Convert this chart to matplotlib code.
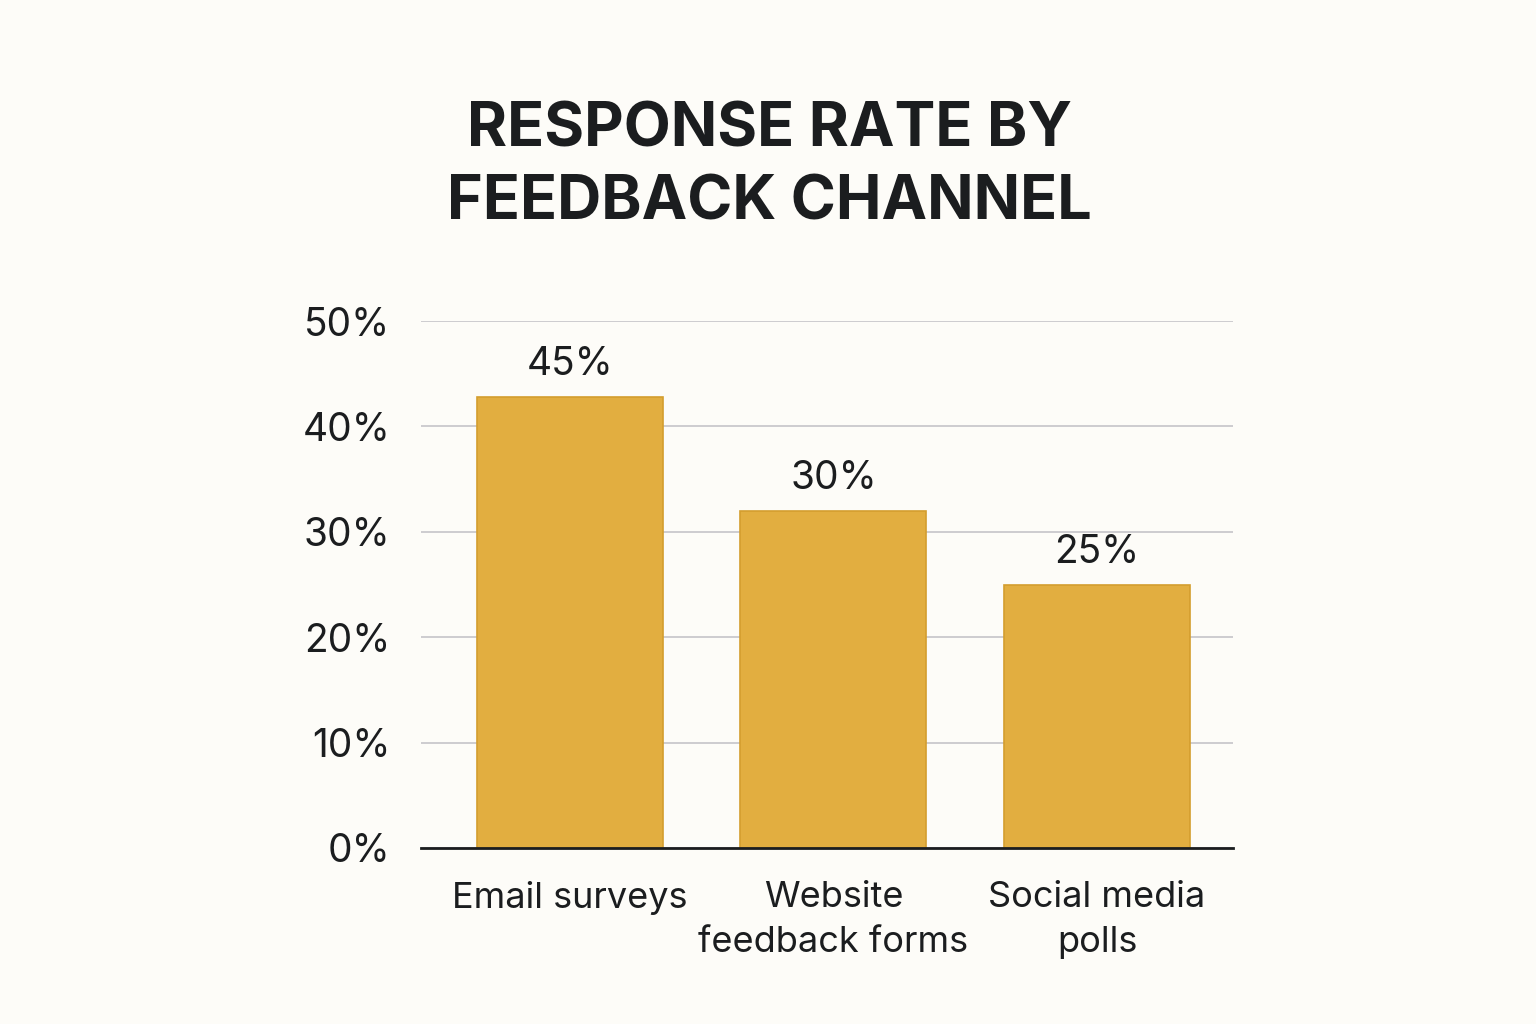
import matplotlib.pyplot as plt
import numpy as np

# values
channels = ["Email surveys", "Website\nfeedback forms", "Social media\npolls"]
bar_heights = [42.8, 32.0, 25.0]
value_labels = ["45%", "30%", "25%"]
y_ticks = [0, 10, 20, 30, 40, 50]

bg = "#fdfcf8"
bar_color = "#e2ae40"
edge_color = "#d49e2e"
text_color = "#1b1d1f"

plt.rcParams['font.family'] = ['Inter', 'DejaVu Sans']

fig = plt.figure(figsize=(15.36, 10.24), dpi=100, facecolor=bg)
ax = fig.add_axes([421 / 1536, 176 / 1024, 812 / 1536, 527 / 1024])
ax.set_facecolor(bg)

x = np.arange(len(channels))
ax.bar(x, bar_heights, width=0.706, color=bar_color, edgecolor=edge_color,
       linewidth=1.2, zorder=3)

for xi, h, lbl in zip(x, bar_heights, value_labels):
    ax.annotate(lbl, (xi, h), textcoords='offset points', xytext=(0, 10),
                ha='center', va='bottom', fontsize=28, color=text_color)

ax.set_xlim(-0.565, 2.516)
ax.set_ylim(0, 50)
ax.set_yticks(y_ticks)
ax.set_yticklabels([f"{t}%" for t in y_ticks])
ax.grid(axis='y', color='#c9c9cc', linewidth=1.3, zorder=0)
ax.tick_params(axis='y', length=0, pad=22, labelsize=28, labelcolor=text_color)

ax.set_xticks(x)
ax.set_xticklabels(channels, fontsize=26, color=text_color, linespacing=1.45)
ax.tick_params(axis='x', length=0, pad=24)

for s in ['top', 'right', 'left']:
    ax.spines[s].set_visible(False)
ax.spines['bottom'].set_color(text_color)
ax.spines['bottom'].set_linewidth(2)
ax.spines['bottom'].set_zorder(4)

fig.text(0.501, 0.837, "RESPONSE RATE BY\nFEEDBACK CHANNEL",
         ha='center', va='center', fontsize=44, fontweight='bold',
         color=text_color, linespacing=1.33)

fig.savefig("out.png", dpi=100, facecolor=bg)
